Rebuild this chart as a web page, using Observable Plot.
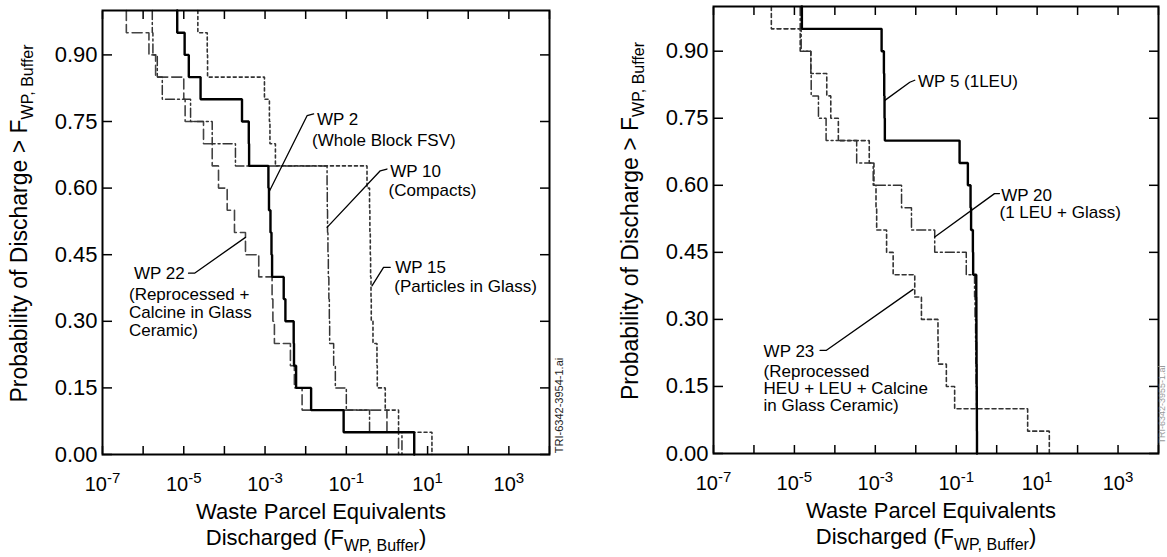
<!DOCTYPE html>
<html><head><meta charset="utf-8">
<script src="https://cdn.jsdelivr.net/npm/d3@7"></script>
<script src="https://cdn.jsdelivr.net/npm/@observablehq/plot@0.6"></script>
<style>
html,body{margin:0;padding:0;background:#fff;}
#wrap{position:relative;width:1167px;height:557px;overflow:hidden;background:#fff;}
#left,#right{position:absolute;top:0;}
#left{left:0;} #right{left:583px;}
</style></head><body>
<div id="wrap"><div id="left"></div><div id="right"></div></div>
<script>
// ---------- axes ----------
const yTicks = [0, 0.15, 0.30, 0.45, 0.60, 0.75, 0.90];
const xLabelTicks = [1e-7, 1e-5, 1e-3, 1e-1, 1e1, 1e3];
const xDomain = [1e-7, 1e4];
const yTitle = "Probability of Discharge > F_{WP, Buffer}";
const xTitle1 = "Waste Parcel Equivalents";
const xTitle2 = "Discharged (F_{WP, Buffer})";

// ---------- left panel: sorted realizations (waste parcel equivalents) ----------
const wp2Values  = [6.9e-6, 1.05e-5, 1.33e-5, 2.59e-5, 2.71e-4, 3.98e-4, 4.05e-4, 1.21e-3, 1.25e-3, 1.36e-3, 1.44e-3, 1.49e-3, 2.88e-3, 3.17e-3, 5.07e-3, 5.16e-3, 5.81e-3, 1.36e-2, 8.59e-2, 4.69];
const wp10Values = [1.68e-6, 1.74e-6, 2.23e-6, 2.96e-6, 1.47e-5, 5.01e-5, 1.87e-4, 3.36e-2, 3.40e-2, 3.45e-2, 3.53e-2, 3.61e-2, 3.72e-2, 3.82e-2, 3.89e-2, 4.88e-2, 5.37e-2, 0.100, 0.373, 2.34];
const wp15Values = [2.22e-5, 3.78e-5, 3.85e-5, 9.67e-4, 1.28e-3, 1.32e-3, 1.80e-3, 0.323, 0.373, 0.380, 0.389, 0.396, 0.405, 0.411, 0.453, 0.568, 0.578, 0.908, 1.93, 12.8];
const wp22Values = [3.86e-7, 1.39e-6, 2.03e-6, 1.00e-5, 1.08e-5, 3.06e-5, 5.01e-5, 7.16e-5, 1.17e-4, 1.77e-4, 3.30e-4, 7.00e-4, 1.49e-3, 1.56e-3, 1.70e-3, 4.21e-3, 5.27e-3, 8.16e-3, 1.00, 1.93];

// ---------- right panel ----------
const wp5Values  = [1.53e-5, 1.43e-3, 1.63e-3, 1.66e-3, 1.69e-3, 1.72e-3, 0.121, 0.194, 0.226, 0.233, 0.258, 0.262, 0.313, 0.315, 0.316, 0.318, 0.320, 0.322, 0.324, 0.326];
const wp20Values = [1.39e-5, 1.47e-5, 2.55e-5, 2.60e-5, 3.93e-5, 6.07e-5, 3.46e-4, 8.87e-4, 4.45e-3, 7.83e-3, 2.94e-2, 0.177, 0.284, 0.292, 0.301, 0.306, 0.311, 0.318, 0.324, 0.329];
const wp23Values = [2.69e-6, 1.39e-5, 2.55e-5, 6.31e-5, 7.93e-5, 1.22e-4, 7.08e-4, 9.25e-4, 1.04e-3, 1.08e-3, 1.90e-3, 2.76e-3, 9.44e-3, 1.38e-2, 3.54e-2, 3.61e-2, 5.70e-2, 9.14e-2, 5.83, 20.0];

// ---------- annotations ----------
const labelsLeft = [
  {x: 0.0190, y: 0.754, text: "WP 2"},
  {x: 0.01435, y: 0.708, text: "(Whole Block FSV)"},
  {x: 1.205, y: 0.637, text: "WP 10"},
  {x: 1.094, y: 0.595, text: "(Compacts)"},
  {x: 1.60, y: 0.421, text: "WP 15"},
  {x: 1.51, y: 0.378, text: "(Particles in Glass)"},
  {x: 5.94e-7, y: 0.407, text: "WP 22"},
  {x: 4.48e-7, y: 0.360, text: "(Reprocessed +"},
  {x: 4.48e-7, y: 0.3195, text: "Calcine in Glass"},
  {x: 4.48e-7, y: 0.280, text: "Ceramic)"}
];
const pointersLeft = [
  [{x: 1.233e-3, y: 0.590}, {x: 0.01081, y: 0.763}, {x: 0.01574, y: 0.767}],
  [{x: 0.0336, y: 0.5115}, {x: 0.684, y: 0.639}, {x: 1.0, y: 0.643}],
  [{x: 0.4276, y: 0.380}, {x: 0.825, y: 0.4215}, {x: 1.205, y: 0.4215}],
  [{x: 1.31e-5, y: 0.4084}, {x: 1.84e-5, y: 0.4084}, {x: 3.30e-4, y: 0.489}]
];
const labelsRight = [
  {x: 0.01140, y: 0.8317, text: "WP 5 (1LEU)"},
  {x: 1.291, y: 0.5776, text: "WP 20"},
  {x: 1.172, y: 0.538, text: "(1 LEU + Glass)"},
  {x: 1.73e-6, y: 0.2283, text: "WP 23"},
  {x: 1.73e-6, y: 0.1836, text: "(Reprocessed"},
  {x: 1.73e-6, y: 0.1455, text: "HEU + LEU + Calcine"},
  {x: 1.73e-6, y: 0.1063, text: "in Glass Ceramic)"}
];
const pointersRight = [
  [{x: 1.722e-3, y: 0.790}, {x: 7.11e-3, y: 0.8305}, {x: 9.44e-3, y: 0.835}],
  [{x: 0.02938, y: 0.4842}, {x: 0.883, y: 0.5814}, {x: 1.172, y: 0.5814}],
  [{x: 4.31e-5, y: 0.2306}, {x: 6.07e-5, y: 0.2306}, {x: 8.59e-3, y: 0.3671}]
];

const FONT = "'Liberation Sans', Arial, Helvetica, sans-serif";
const NS = "http://www.w3.org/2000/svg";

function stepPoints(values) {
  const pts = [{x: values[0], y: 1}];
  values.forEach((v, i) => pts.push({x: v, y: 1 - (i + 1) / values.length}));
  return pts;
}

const allTicks = d3.scaleLog().domain(xDomain).ticks();
const isDecade = v => Math.abs(Math.log10(v) - Math.round(Math.log10(v))) < 1e-6;
const majorTicks = allTicks.filter(isDecade);
const minorTicks = allTicks.filter(v => !isDecade(v));

function makePanel(cfg) {
  const marks = [];
  cfg.curves.forEach(c => marks.push(Plot.line(stepPoints(c.values), {
    x: "x", y: "y", curve: "step-after", stroke: c.stroke, strokeWidth: c.width,
    strokeDasharray: c.dash, strokeLinejoin: "miter"
  })));
  cfg.pointers.forEach(p => marks.push(Plot.line(p, {x: "x", y: "y", stroke: "#000", strokeWidth: 1.3})));
  marks.push(Plot.text(cfg.labels, {x: "x", y: "y", text: "text", textAnchor: "start", lineAnchor: "middle", fontSize: 17, fill: "#000"}));
  marks.push(Plot.frame({stroke: "#000", strokeWidth: 2}));
  // inward ticks
  marks.push(Plot.axisY(yTicks, {anchor: "left", tickSize: 10, dx: 10, fill: "none", label: null, strokeWidth: 1.5}));
  marks.push(Plot.axisY(yTicks, {anchor: "right", tickSize: 10, dx: -10, fill: "none", label: null, strokeWidth: 1.5}));
  marks.push(Plot.axisX(majorTicks, {anchor: "bottom", tickSize: 8, dy: -8, fill: "none", label: null, strokeWidth: 1.5}));
  marks.push(Plot.axisX(minorTicks, {anchor: "bottom", tickSize: 4, dy: -4, fill: "none", label: null, strokeWidth: 1}));
  marks.push(Plot.axisX(majorTicks, {anchor: "top", tickSize: 8, dy: 8, fill: "none", label: null, strokeWidth: 1.5}));
  marks.push(Plot.axisX(minorTicks, {anchor: "top", tickSize: 4, dy: 4, fill: "none", label: null, strokeWidth: 1}));
  // labels
  marks.push(Plot.axisY(yTicks, {anchor: "left", tickSize: 0, tickPadding: 5, tickFormat: d3.format(".2f"), fontSize: 22, label: null}));
  marks.push(Plot.axisX(xLabelTicks, {anchor: "bottom", tickSize: 0, tickPadding: 22, tickFormat: d => "10^" + Math.round(Math.log10(d)), fontSize: 20, label: null}));
  marks.push(Plot.text([yTitle], {frameAnchor: "left", rotate: -90, textAnchor: "middle", lineAnchor: "middle", dx: -83, dy: -9, fontSize: 23, fill: "#000"}));
  marks.push(Plot.text([xTitle1], {frameAnchor: "bottom", textAnchor: "middle", lineAnchor: "middle", dx: -5, dy: 57, fontSize: 22, fill: "#000"}));
  marks.push(Plot.text([xTitle2], {frameAnchor: "bottom", textAnchor: "middle", lineAnchor: "middle", dx: -10, dy: 83, fontSize: 22, fill: "#000"}));
  marks.push(Plot.text([cfg.fileId], {frameAnchor: "bottom-right", rotate: -90, textAnchor: "middle", lineAnchor: "middle", dx: cfg.fileDx, dy: -49, fontSize: cfg.fileSize, fill: cfg.fileColor}));
  const svg = Plot.plot({
    width: cfg.width, height: 557,
    marginLeft: cfg.ml, marginRight: cfg.mr, marginTop: cfg.mt, marginBottom: cfg.mb,
    x: {type: "log", domain: xDomain},
    y: {domain: [0, 1]},
    style: {fontFamily: FONT, color: "#000", background: "#fff", overflow: "visible"},
    marks
  });
  richText(svg);
  return svg;
}

function richText(svg) {
  svg.querySelectorAll("text").forEach(t => {
    const s = t.textContent;
    let m = s.match(/^10\^(-?\d+)$/);
    if (m) {
      t.textContent = "10";
      const sup = document.createElementNS(NS, "tspan");
      sup.setAttribute("dy", "-8");
      sup.setAttribute("font-size", "15");
      sup.textContent = m[1];
      t.appendChild(sup);
      return;
    }
    m = s.match(/^(.*)_\{(.*)\}(.*)$/);
    if (m) {
      t.textContent = m[1];
      const sub = document.createElementNS(NS, "tspan");
      sub.setAttribute("dy", "6");
      sub.setAttribute("font-size", "16");
      sub.textContent = m[2];
      t.appendChild(sub);
      if (m[3]) {
        const rest = document.createElementNS(NS, "tspan");
        rest.setAttribute("dy", "-6");
        rest.textContent = m[3];
        t.appendChild(rest);
      }
    }
  });
}

const solid = {stroke: "#000", width: 2.4};
document.getElementById("left").appendChild(makePanel({
  width: 583, ml: 102, mr: 34, mt: 10, mb: 103,
  curves: [
    {values: wp22Values, stroke: "#444", width: 1.6, dash: "10,4"},
    {values: wp10Values, stroke: "#333", width: 1.5, dash: "9,3,2,3"},
    {values: wp15Values, stroke: "#333", width: 1.6, dash: "3,3"},
    {values: wp2Values, ...solid}
  ],
  labels: labelsLeft, pointers: pointersLeft,
  fileId: "TRI-6342-3954-1.ai", fileColor: "#222", fileDx: 9.5, fileSize: 11
}));
document.getElementById("right").appendChild(makePanel({
  width: 584, ml: 130, mr: 9, mt: 6, mb: 104,
  curves: [
    {values: wp23Values, stroke: "#333", width: 1.6, dash: "4,3"},
    {values: wp20Values, stroke: "#333", width: 1.5, dash: "9,3,2,3"},
    {values: wp5Values, ...solid}
  ],
  labels: labelsRight, pointers: pointersRight,
  fileId: "TRI-6342-3955-1.ai", fileColor: "#999", fileDx: 4, fileSize: 9
}));
</script>
</body></html>
